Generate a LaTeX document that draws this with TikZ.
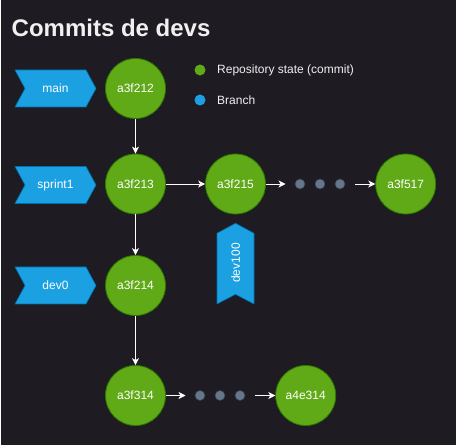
\documentclass[tikz,border=0pt]{standalone}
\usepackage{fontspec}
\setmainfont{Liberation Sans}
\usetikzlibrary{arrows.meta}
\definecolor{bgdark}{HTML}{1E1B22}
\definecolor{cgreen}{HTML}{60A917}
\definecolor{cgreenline}{HTML}{2D7600}
\definecolor{cblue}{HTML}{1BA1E2}
\definecolor{cblueline}{HTML}{006EAF}
\definecolor{cgray}{HTML}{647687}
\definecolor{cgrayline}{HTML}{314354}
\definecolor{ltext}{HTML}{F0F0F0}
\tikzset{
  commit/.style={circle, fill=cgreen, draw=cgreenline, line width=0.8pt, minimum size=60pt, inner sep=0pt, text=white, font=\fontsize{12pt}{14pt}\selectfont},
  ghost/.style={circle, fill=cgray, draw=cgrayline, line width=0.5pt, minimum size=10pt, inner sep=0pt},
  legdot/.style={circle, inner sep=0pt, minimum size=11pt},
  chevfill/.style={fill=cblue, draw=cblueline, line width=0.6pt},
  chevtext/.style={text=white, font=\fontsize{12pt}{14pt}\selectfont, inner sep=0pt},
  legtext/.style={text=ltext, font=\fontsize{12pt}{14pt}\selectfont, anchor=west, inner sep=0pt},
  link/.style={draw=white, line width=0.8pt, -{Stealth[length=7pt,width=7pt,inset=2pt]}},
}
\newcommand\mychev[2]{%
  \path[chevfill] (#1-40.5,#2-18.5) -- (#1+30.5,#2-18.5) -- (#1+40.5,#2) -- (#1+30.5,#2+18.5) -- (#1-40.5,#2+18.5) -- (#1-30.5,#2) -- cycle;}
\begin{document}
\begin{tikzpicture}[x=1pt,y=-1pt]
\useasboundingbox (0,0) rectangle (458,446);
\fill[white] (0,0) rectangle (458,446);
\fill[bgdark] (0.5,0.5) rectangle (456,445);
% title
\node[anchor=base west, inner sep=0pt, text=ltext, font=\bfseries\fontsize{24pt}{28pt}\selectfont] (title) at (11.5,37) {Commits de devs};
% legend
\node[legdot, fill=cgreen] (lg1) at (200,70) {};
\node[legtext] (lt1) at (217,70) {Repository state (commit)};
\node[legdot, fill=cblue] (lg2) at (200,100) {};
\node[legtext] (lt2) at (217,100) {Branch};
% branches
\mychev{55.5}{88.5}
\node[chevtext] (bmain) at (55.5,88.5) {main};
\mychev{55.5}{185}
\node[chevtext] (bsprint) at (55.5,185) {sprint1};
\mychev{55.5}{285.5}
\node[chevtext] (bdev0) at (55.5,285.5) {dev0};
\path[chevfill] (217,304) -- (217,233.3) -- (235.5,223.3) -- (254,233.3) -- (254,304) -- (235.5,294.3) -- cycle;
\node[chevtext, rotate=90] (bdev100) at (235.5,263) {dev100};
% commits
\node[commit] (c212) at (135.5,88.5) {a3f212};
\node[commit] (c213) at (135.5,184) {a3f213};
\node[commit] (c214) at (135.5,285.5) {a3f214};
\node[commit] (c314) at (135.5,395.5) {a3f314};
\node[commit] (c215) at (235.5,184) {a3f215};
\node[commit] (c517) at (405.7,184) {a3f517};
\node[commit] (e314) at (305.7,395.5) {a4e314};
% ghost dots
\node[ghost] (d1) at (300,184) {};
\node[ghost] (d2) at (320,184) {};
\node[ghost] (d3) at (340,184) {};
\node[ghost] (d4) at (200,395.5) {};
\node[ghost] (d5) at (220,395.5) {};
\node[ghost] (d6) at (240,395.5) {};
\coordinate (g1) at (285.5,184);
\coordinate (g2) at (355,184);
\coordinate (g3) at (185.5,395.5);
\coordinate (g4) at (255,395.5);
% links
\draw[link] (c212) -- (c213);
\draw[link] (c213) -- (c214);
\draw[link] (c214) -- (c314);
\draw[link] (c213) -- (c215);
\draw[link] (c215) -- (g1);
\draw[link] (g2) -- (c517);
\draw[link] (c314) -- (g3);
\draw[link] (g4) -- (e314);
\end{tikzpicture}
\end{document}
